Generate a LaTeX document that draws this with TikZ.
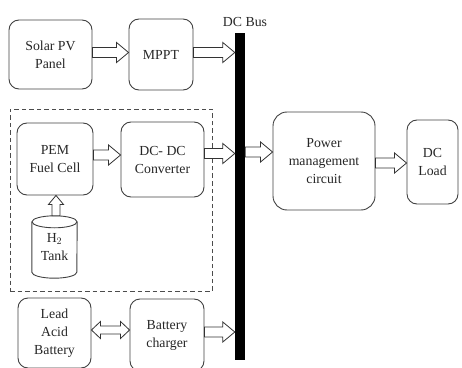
\documentclass[tikz,border=0pt]{standalone}
\usepackage{fontspec}
\setmainfont{Liberation Serif}
\usetikzlibrary{calc}
\tikzset{
  box/.style={draw=black!75, line width=0.9pt, rounded corners=10pt, align=center,
    font=\fontsize{13.8}{18}\selectfont, text=black!85, inner sep=0pt},
  hollow/.style={draw=black!80, line width=0.8pt, fill=white},
  groupbox/.style={draw=black!70, line width=0.9pt, dash pattern=on 4.5pt off 3pt, inner sep=0pt},
  lbl/.style={font=\fontsize{13.8}{18}\selectfont, text=black!85, inner sep=0pt}
}
% hollow horizontal arrow from #1 to #2 (y taken from #1, x of tip from #2)
\newcommand{\harrow}[2]{\draw[hollow] let \p1=#1, \p2=#2 in
  (\x1,\y1-5pt) -- (\x2-12pt,\y1-5pt) -- (\x2-12pt,\y1-10pt) -- (\x2,\y1) --
  (\x2-12pt,\y1+10pt) -- (\x2-12pt,\y1+5pt) -- (\x1,\y1+5pt) -- cycle;}
% hollow vertical arrow upward from #1 to #2 (x taken from #1)
\newcommand{\uarrow}[2]{\draw[hollow] let \p1=#1, \p2=#2 in
  (\x1-4pt,\y1) -- (\x1-4pt,\y2-9pt) -- (\x1-7.5pt,\y2-9pt) -- (\x1,\y2) --
  (\x1+7.5pt,\y2-9pt) -- (\x1+4pt,\y2-9pt) -- (\x1+4pt,\y1) -- cycle;}
% hollow double arrow between #1 and #2 (y taken from #1)
\newcommand{\darrow}[2]{\draw[hollow] let \p1=#1, \p2=#2 in
  (\x1,\y1) -- (\x1+9pt,\y1+8.5pt) -- (\x1+9pt,\y1+4pt) -- (\x2-9pt,\y1+4pt) --
  (\x2-9pt,\y1+8.5pt) -- (\x2,\y1) -- (\x2-9pt,\y1-8.5pt) -- (\x2-9pt,\y1-4pt) --
  (\x1+9pt,\y1-4pt) -- (\x1+9pt,\y1-8.5pt) -- cycle;}
\begin{document}
\begin{tikzpicture}[x=1pt,y=1pt]
\useasboundingbox (0,0) rectangle (462,367);
\clip (0,0) rectangle (462,367);
% boxes
\node[box, minimum width=83pt, minimum height=69pt] (solar) at (50.5,312.5) {Solar PV\\Panel};
\node[box, minimum width=64pt, minimum height=71pt] (mppt) at (161,312.5) {MPPT};
\node[groupbox, minimum width=202pt, minimum height=182pt] (group) at (111,167) {};
\node[box, minimum width=76pt, minimum height=72pt] (pem) at (55,208) {PEM\\Fuel Cell};
\node[box, minimum width=83pt, minimum height=75pt] (dcdc) at (162.5,207.5) {DC- DC\\Converter};
\node[lbl, align=center, minimum width=45pt, minimum height=62pt] (tank) at (54.5,120) {H$_2$\\Tank};
\node[box, minimum width=73pt, minimum height=70pt] (batt) at (54.5,34) {Lead\\Acid\\Battery};
\node[box, minimum width=74pt, minimum height=72pt] (chg) at (167,32) {Battery\\charger};
\node[fill=black, inner sep=0pt, minimum width=10pt, minimum height=327pt] (bus) at (240,170.5) {};
\node[lbl] (buslabel) at (245,345) {DC Bus};
\node[box, rounded corners=14pt, minimum width=102pt, minimum height=98pt] (pmc) at (324,206) {Power\\management\\circuit};
\node[box, minimum width=51pt, minimum height=84pt] (load) at (432.5,205) {DC\\Load};
% tank cylinder
\draw[draw=black!75, line width=0.9pt]
  ($(tank.north)+(0,-6)$) ellipse [x radius=22.5pt, y radius=6pt];
\draw[draw=black!75, line width=0.9pt]
  ($(tank.north west)+(0,-6)$) -- ($(tank.south west)+(0,6)$)
  arc[start angle=180, end angle=360, x radius=22.5pt, y radius=6pt]
  -- ($(tank.north east)+(0,-6)$);
% connectors
\harrow{($(solar.east)+(0,2)$)}{(mppt.west)}
\harrow{($(mppt.east)+(0,2)$)}{(bus.west)}
\harrow{($(pem.east)+(0,4)$)}{(dcdc.west)}
\harrow{($(dcdc.east)+(0,6)$)}{(bus.west)}
\harrow{($(bus.east)+(0,44.5)$)}{(pmc.west)}
\harrow{($(pmc.east)+(0,-2)$)}{(load.west)}
\uarrow{($(tank.north)+(1.5,0)$)}{($(pem.south)+(1.5,0)$)}
\darrow{($(batt.east)+(0,3)$)}{(chg.west)}
\harrow{($(chg.east)+(0,3)$)}{(bus.west)}
\end{tikzpicture}
\end{document}
